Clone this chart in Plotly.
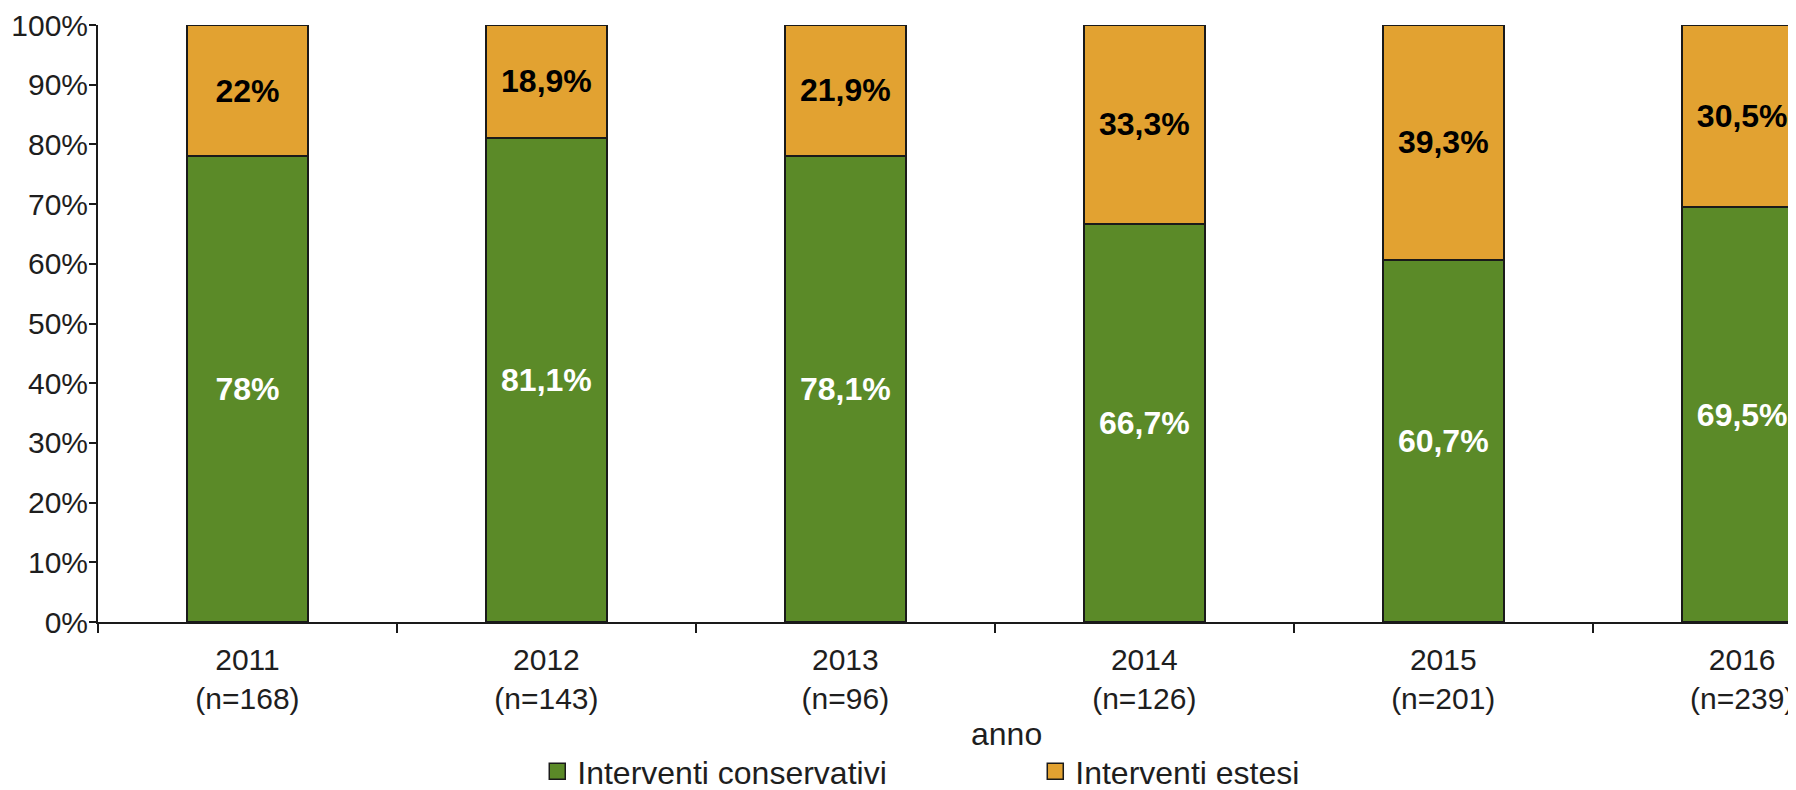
import plotly.graph_objects as go

years = ["2011", "2012", "2013", "2014", "2015", "2016"]
n_values = [168, 143, 96, 126, 201, 239]
conservativi = [78.0, 81.1, 78.1, 66.7, 60.7, 69.5]
estesi = [22.0, 18.9, 21.9, 33.3, 39.3, 30.5]
conservativi_labels = ["78%", "81,1%", "78,1%", "66,7%", "60,7%", "69,5%"]
estesi_labels = ["22%", "18,9%", "21,9%", "33,3%", "39,3%", "30,5%"]
y_ticks = list(range(0, 101, 10))

categories = [f"{y}<br>(n={n})" for y, n in zip(years, n_values)]

GREEN = "#5B8A28"
ORANGE = "#E2A231"
FONT = "Liberation Sans, Arial, sans-serif"
TXT = "#1e1e1e"

fig = go.Figure()
fig.add_trace(go.Bar(
    x=categories, y=conservativi, name="Interventi conservativi",
    marker=dict(color=GREEN, line=dict(color="#1a1a1a", width=2)),
    text=conservativi_labels, textposition="inside", insidetextanchor="middle",
    textfont=dict(family=FONT, size=32, color="white", weight="bold"),
    showlegend=False, width=0.405,
))
fig.add_trace(go.Bar(
    x=categories, y=estesi, name="Interventi estesi",
    marker=dict(color=ORANGE, line=dict(color="#1a1a1a", width=2)),
    text=estesi_labels, textposition="inside", insidetextanchor="middle",
    textfont=dict(family=FONT, size=32, color="black", weight="bold"),
    showlegend=False, width=0.405,
))
# legend entries with larger square symbols
for name, col in [("Interventi conservativi", GREEN), ("Interventi estesi", ORANGE)]:
    fig.add_trace(go.Scatter(
        x=[None], y=[None], mode="markers", name=name,
        marker=dict(symbol="square", size=18, color=col, line=dict(color="#1a1a1a", width=1.5)),
    ))

fig.update_layout(
    barmode="stack",
    width=1788, height=782,
    margin=dict(l=90, r=0, t=17, b=168, autoexpand=False),
    paper_bgcolor="white", plot_bgcolor="white",
    font=dict(family=FONT, size=30, color=TXT),
    legend=dict(orientation="h", traceorder="normal", x=0.2587, xanchor="left", y=-0.2505, yanchor="middle",
                font=dict(size=32, color=TXT), entrywidth=453, itemwidth=30,
                bgcolor="rgba(0,0,0,0)"),
)
fig.update_xaxes(
    type="category", categoryorder="array", categoryarray=categories,
    range=[-0.5, 5.18], automargin=False,
    showline=True, linecolor="#1a1a1a", linewidth=2,
    ticks="outside", tickson="boundaries", ticklen=9, tickwidth=2, tickcolor="#1a1a1a",
    tickfont=dict(size=30, color=TXT), ticklabelstandoff=10,
    showgrid=False, zeroline=False,
)
fig.update_yaxes(
    range=[0, 100], tickvals=y_ticks, ticktext=[f"{v}%" for v in y_ticks], automargin=False,
    showline=True, linecolor="#1a1a1a", linewidth=2,
    ticks="outside", ticklen=7, tickwidth=2, tickcolor="#1a1a1a",
    tickfont=dict(size=30, color=TXT), ticklabelstandoff=-5,
    showgrid=False, zeroline=False,
)
fig.add_annotation(text="anno", xref="paper", yref="paper", x=(998 - 90) / 1698, y=(614 - 726) / 597,
                   xanchor="center", yanchor="middle", showarrow=False,
                   font=dict(size=32, color=TXT, family=FONT))

fig.write_html("out.html")
